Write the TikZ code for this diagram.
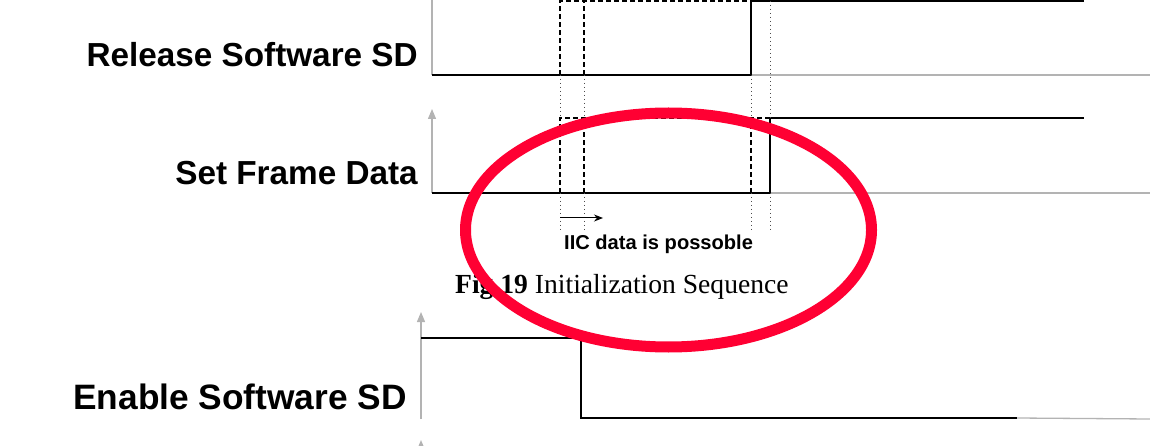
\documentclass[tikz,border=0pt]{standalone}
\usepackage{fontspec}
\setmainfont{Liberation Serif}
\setsansfont{Liberation Sans}
\usetikzlibrary{arrows.meta}
\definecolor{axisgray}{RGB}{179,179,179}
\definecolor{markred}{RGB}{255,0,51}
\tikzset{
  axisline/.style={draw=axisgray, line width=1.3pt},
  axisarrow/.style={axisline, -{Triangle[length=10pt,width=8pt,fill=axisgray]}},
  signal/.style={draw=black, line width=1.3pt},
  dashline/.style={draw=black, line width=1.2pt, dash pattern=on 5pt off 3pt},
  dotline/.style={draw=black!70, line width=0.9pt, dash pattern=on 1pt off 3pt},
  siglabel/.style={font=\sffamily\bfseries\fontsize{33.3}{36}\selectfont, anchor=base east, inner sep=0pt},
  smalllabel/.style={font=\sffamily\bfseries\fontsize{20.1}{22}\selectfont, anchor=base west, inner sep=0pt},
  caption/.style={font=\rmfamily\fontsize{27.6}{30}\selectfont, anchor=base west, inner sep=0pt},
  ring/.style={draw=markred, line width=11pt}
}
\begin{document}
\begin{tikzpicture}[x=1pt,y=-1pt]
\useasboundingbox (0,0) rectangle (1150,446);
\clip (0,0) rectangle (1150,446);
% ---------- labels
\node[siglabel] (lrel) at (418,67) {Release Software SD};
\node[siglabel] (lset) at (418,185) {Set Frame Data};
\node[siglabel, font=\sffamily\bfseries\fontsize{35.3}{38}\selectfont] (len) at (407,409) {Enable Software SD};
% ---------- panel 1: Release Software SD
\coordinate (a1b) at (432,75);
\coordinate (a1t) at (432,-12);
\coordinate (b1e) at (1150,75);
\coordinate (s1a) at (751,75);
\coordinate (s1b) at (751,1);
\coordinate (s1c) at (1084,1);
\draw[axisarrow] (a1b) -- (a1t);
\draw[axisline] (s1a) -- (b1e);
\draw[signal] (a1b) -- (s1a) -- (s1b) -- (s1c);
% dashed alternatives in panel 1
\coordinate (d1a) at (560,75);
\coordinate (d1b) at (560,1);
\coordinate (d1c) at (584,75);
\coordinate (d1d) at (584,1);
\draw[dashline] (d1a) -- (d1b) -- (s1b);
\draw[dashline] (d1c) -- (d1d);
% ---------- panel 2: Set Frame Data
\coordinate (a2b) at (432,193);
\coordinate (a2t) at (432,109);
\coordinate (b2e) at (1150,193);
\coordinate (s2a) at (770,193);
\coordinate (s2b) at (770,118);
\coordinate (s2c) at (1084,118);
\draw[axisarrow] (a2b) -- (a2t);
\draw[axisline] (s2a) -- (b2e);
\draw[signal] (a2b) -- (s2a) -- (s2b) -- (s2c);
\coordinate (d2a) at (560,193);
\coordinate (d2b) at (560,118);
\coordinate (d2c) at (584,193);
\coordinate (d2d) at (584,118);
\coordinate (d2e) at (751,193);
\coordinate (d2f) at (751,118);
\draw[dashline] (d2a) -- (d2b) -- (s2b);
\draw[dashline] (d2c) -- (d2d);
\draw[dashline] (d2e) -- (d2f);
% ---------- dotted guide lines
\coordinate (g1) at (560,233);
\coordinate (g2) at (584,233);
\coordinate (g3) at (751,233);
\coordinate (g4) at (770,233);
\coordinate (g4t) at (770,1);
\draw[dotline] (d1a) -- (d2b);
\draw[dotline] (d1c) -- (d2d);
\draw[dotline] (s1a) -- (d2f);
\draw[dotline] (g4t) -- (s2b);
\draw[dotline] (d2a) -- (g1);
\draw[dotline] (d2c) -- (g2);
\draw[dotline] (d2e) -- (g3);
\draw[dotline] (s2a) -- (g4);
% ---------- arrow and note
\coordinate (ar1) at (560,218);
\coordinate (ar2) at (603,218);
\draw[black, line width=1pt, -{Stealth[length=9pt,width=7pt]}] (ar1) -- (ar2);
\node[smalllabel] (note) at (564,249) {IIC data is possoble};
% ---------- caption
\node[caption] (cap) at (455,293) {\textbf{Fig 19} Initialization Sequence};
% ---------- panel 3: Enable Software SD
\coordinate (a3b) at (421,419);
\coordinate (a3t) at (421,312);
\coordinate (b3e) at (1150,419);
\coordinate (s3a) at (421,338);
\coordinate (s3b) at (581,338);
\coordinate (s3c) at (581,418);
\coordinate (s3d) at (1017,418);
\draw[axisarrow] (a3b) -- (a3t);
\draw[axisline] (s3d) -- (b3e);
\draw[signal] (s3a) -- (s3b) -- (s3c) -- (s3d);
% next panel axis (cut off)
\coordinate (a4b) at (421,520);
\coordinate (a4t) at (421,440);
\draw[axisarrow] (a4b) -- (a4t);
% ---------- red ring
\coordinate (ringc) at (668.5,230);
\draw[ring] (ringc) ellipse [x radius=203, y radius=117];
\end{tikzpicture}
\end{document}
